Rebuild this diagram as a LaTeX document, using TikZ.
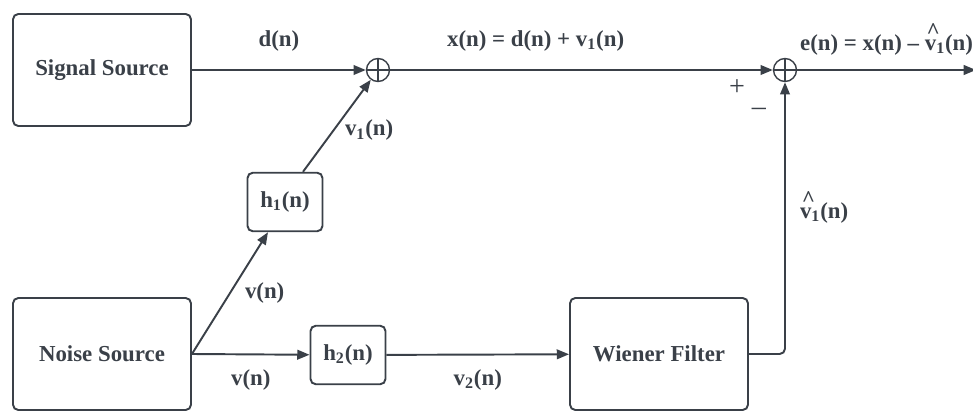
\documentclass[tikz,border=0pt]{standalone}
\usepackage{fontspec}
\setmainfont{Liberation Serif}
\usetikzlibrary{arrows.meta,positioning,calc}
\definecolor{ink}{RGB}{58,64,72}
\newcommand{\vhat}{\makebox[0pt][l]{\raisebox{1.15ex}{\kern0.08em\^{}}}v}

\begin{document}
\begin{tikzpicture}[
        x=0.02cm, y=-0.02cm,
        every node/.style={text=ink, font=\fontsize{13}{15}\selectfont\bfseries},
        box/.style={rectangle, draw=ink, rounded corners=3pt, line width=1.1pt, align=center},
        bigbox/.style={box, minimum width=3.56cm, minimum height=2.24cm},
        smallbox/.style={box, minimum width=1.5cm, minimum height=1.17cm},
        sum/.style={circle, draw=ink, line width=0.8pt, minimum size=0.46cm, inner sep=0pt,
            path picture={\draw[ink, line width=0.8pt]
                (path picture bounding box.north) -- (path picture bounding box.south)
                (path picture bounding box.west) -- (path picture bounding box.east);}},
        arrow/.style={-{Triangle[length=7pt,width=5.5pt]}, draw=ink, line width=1.1pt},
        label/.style={inner sep=2pt}
    ]
        \useasboundingbox (0,0) rectangle (973,412);

        % Nodes
        \node[bigbox] (signal) at (102,70) {Signal Source};
        \node[bigbox] (noise) at (102,354) {Noise Source};
        \node[bigbox] (wiener) at (659,354) {Wiener Filter};
        \node[smallbox] (h1) at (285,202) {h\textsubscript{1}(n)};
        \node[smallbox] (h2) at (348,355) {h\textsubscript{2}(n)};
        \node[sum] (sum1) at (378,70) {};
        \node[sum] (sum2) at (785,70) {};
        \coordinate (out) at (976,70);

        % Arrows
        \draw[arrow] (signal) -- (sum1) node[midway, above=8pt, label] {d(n)};
        \draw[arrow] (sum1) -- (sum2) node[pos=0.38, above=8pt, label] {x(n) = d(n) + v\textsubscript{1}(n)};
        \draw[arrow] (sum2) -- (out) node[midway, above=6pt, label] {e(n) = x(n) – \vhat\textsubscript{1}(n)};
        \draw[arrow] (noise.east) -- ([xshift=-0.34cm]h1.south) node[midway, right=6pt, label] {v(n)};
        \draw[arrow] ([xshift=0.36cm]h1.north) -- (sum1) node[pos=0.45, right=4pt, label] {v\textsubscript{1}(n)};
        \draw[arrow] (noise.east) -- (h2) node[midway, below=6pt, label] {v(n)};
        \draw[arrow] (h2) -- (wiener) node[midway, below=6pt, label] {v\textsubscript{2}(n)};
        \draw[arrow, rounded corners=3pt] (wiener.east) -| (sum2) node[pos=0.77, right=6pt, label] {\vhat\textsubscript{1}(n)};

        % Signs at the second sum
        \node[font=\fontsize{16}{16}\selectfont] (plus) at (737,88) {+};
        \node[font=\fontsize{16}{16}\selectfont] (minus) at (759,112) {–};

    \end{tikzpicture}
\end{document}
